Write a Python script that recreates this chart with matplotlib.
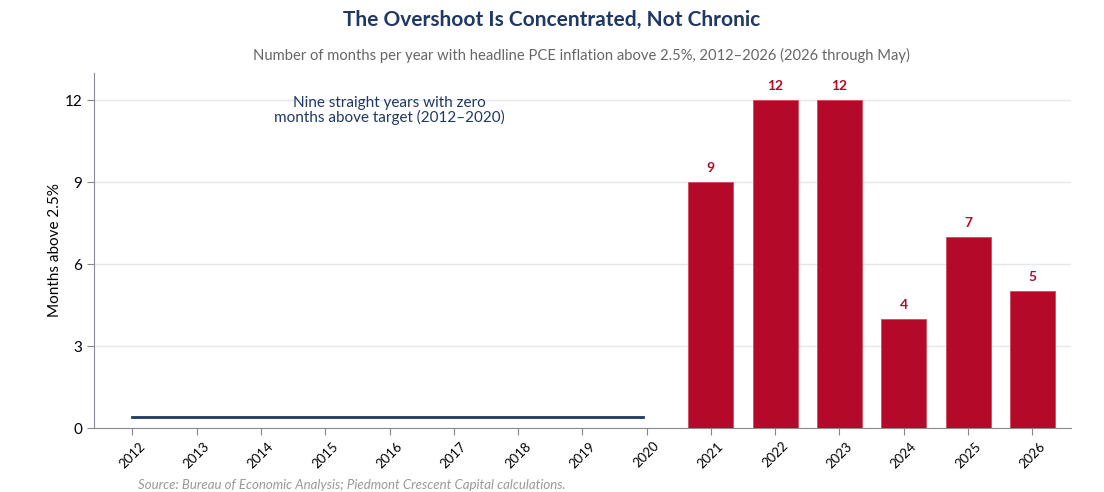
import matplotlib.pyplot as plt
import numpy as np

plt.rcParams.update({
    "font.family": ["Lato", "DejaVu Sans"],
    "axes.spines.top": False,
    "axes.spines.right": False,
})

# Data
years = [str(y) for y in range(2012, 2027)]
zero_years = years[:9]           # 2012-2020, all zero
bar_years = years[9:]            # 2021-2026
bar_values = [9, 12, 12, 4, 7, 5]
zero_line_level = 0.4            # drawn slightly above zero so it is visible

NAVY = "#1f3864"
CRIMSON = "#b5092a"

fig = plt.figure(figsize=(11.04, 4.92), dpi=100)
ax = fig.add_axes([0.085, 0.13, 0.885, 0.722])

x = np.arange(len(years))
bar_x = x[9:]
ax.bar(bar_x, bar_values, width=0.7, color=CRIMSON, edgecolor="#d04a60",
       linewidth=0.6, zorder=3)
for xi, v in zip(bar_x, bar_values):
    ax.text(xi, v + 0.3, str(v), ha="center", va="bottom", color=CRIMSON,
            fontsize=10, fontweight="bold")

ax.plot([x[0], x[8] - 0.05], [zero_line_level] * 2, color=NAVY, lw=2, zorder=3)
ax.text(x[4], 11.62, "Nine straight years with zero\nmonths above target (2012\u20132020)",
        ha="center", va="center", color=NAVY, fontsize=11, linespacing=1.05)

ax.set_xlim(-0.6, 14.6)
ax.set_ylim(0, 13)
ax.set_xticks(x)
ax.set_xticklabels(years, rotation=45, fontsize=9.5)
ax.set_yticks([0, 3, 6, 9, 12])
ax.tick_params(axis="y", labelsize=11, length=5, color="#888888")
ax.tick_params(axis="x", length=5, color="#888888")
ax.yaxis.grid(True, color="#e6e6ec", lw=1)
ax.set_axisbelow(True)
for s in ("left", "bottom"):
    ax.spines[s].set_color("#888a94")
ax.set_ylabel("Months above 2.5%", fontsize=11, labelpad=2)

fig.text(0.5, 0.96, "The Overshoot Is Concentrated, Not Chronic", ha="center",
         va="center", fontsize=15, fontweight="bold", color=NAVY)
fig.text(0.527, 0.888, "Number of months per year with headline PCE inflation above 2.5%, "
         "2012\u20132026 (2026 through May)", ha="center", va="center",
         fontsize=10.6, color="#666666")
fig.text(0.125, 0.003, "Source: Bureau of Economic Analysis; Piedmont Crescent Capital calculations.",
         ha="left", va="bottom", fontsize=9.5, style="italic", color="#999999")

plt.savefig("out.png", dpi=100)
